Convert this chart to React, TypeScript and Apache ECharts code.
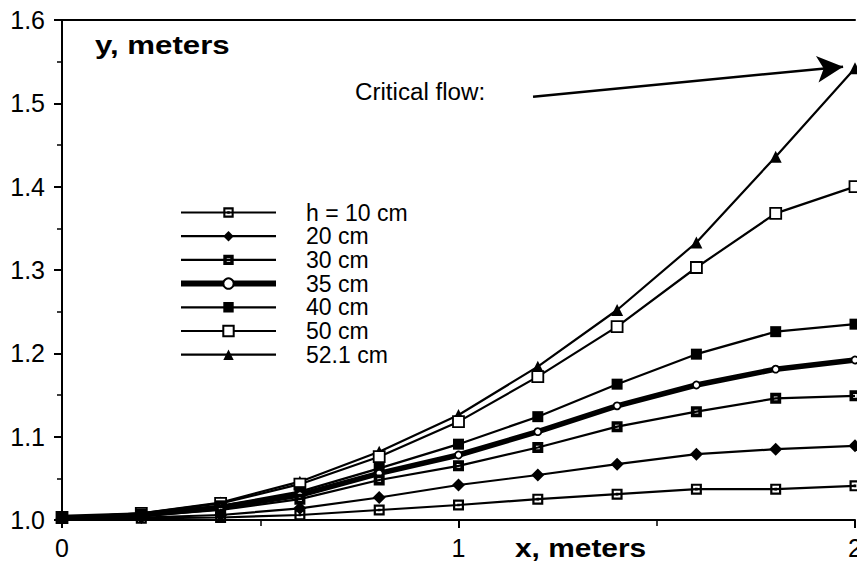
import React, { useEffect, useRef } from "react";
import * as echarts from "echarts";

// x positions (meters)
const xValues = [0, 0.2, 0.4, 0.6, 0.8, 1.0, 1.2, 1.4, 1.6, 1.8, 2.0];
const seriesNames = ["h = 10 cm", "20 cm", "30 cm", "35 cm", "40 cm", "50 cm", "52.1 cm"];
// y (meters)
const yH10 = [1.002, 1.002, 1.003, 1.006, 1.012, 1.018, 1.025, 1.031, 1.037, 1.037, 1.041];
const yH20 = [1.002, 1.003, 1.006, 1.014, 1.027, 1.042, 1.054, 1.067, 1.079, 1.085, 1.089];
const yH30 = [1.003, 1.005, 1.012, 1.025, 1.048, 1.065, 1.087, 1.112, 1.130, 1.146, 1.149];
const yH35 = [1.003, 1.006, 1.015, 1.030, 1.056, 1.078, 1.106, 1.137, 1.162, 1.181, 1.192];
const yH40 = [1.003, 1.007, 1.017, 1.034, 1.062, 1.091, 1.124, 1.163, 1.199, 1.226, 1.235];
const yH50 = [1.003, 1.008, 1.020, 1.043, 1.076, 1.118, 1.172, 1.232, 1.303, 1.368, 1.400];
const yH521 = [1.003, 1.008, 1.021, 1.046, 1.082, 1.126, 1.184, 1.252, 1.333, 1.436, 1.542];
const seriesValues = [yH10, yH20, yH30, yH35, yH40, yH50, yH521];
// critical-flow arrow (data coords)
const arrowStart = [1.188, 1.508];
const arrowEnd = [1.97, 1.544];
const xTickLabels = ["0", "1", "2"];

const FONT = "'Liberation Sans', Arial, Helvetica, sans-serif";
const SQ_DOT = "path://M0,0H10V10H0Z M2,2V8H8V2Z M3.8,3.8H6.2V6.2H3.8Z";
const SQ_THICK = "path://M0,0H10V10H0Z M3.3,3.3V6.7H6.7V3.3Z";

export default function App() {
  const ref = useRef<HTMLDivElement>(null);
  useEffect(() => {
    document.body.style.margin = "0";
    if (!ref.current) return;
    const chart = echarts.init(ref.current, null, { renderer: "svg" });
    const styles = [
      { symbol: SQ_DOT, size: 11, fill: "#000", width: 2.2 },
      { symbol: "diamond", size: 13, fill: "#000", width: 2.2 },
      { symbol: SQ_THICK, size: 11, fill: "#000", width: 2.2 },
      { symbol: "circle", size: 7, fill: "#fff", width: 5.5 },
      { symbol: "rect", size: 11, fill: "#000", width: 2.2 },
      { symbol: "rect", size: 11, fill: "#fff", width: 2.2 },
      { symbol: "triangle", size: 12, fill: "#000", width: 2.2 },
    ];
    const series: any[] = seriesNames.map((name, i) => {
      const st = styles[i];
      return {
        name,
        type: "line",
        data: xValues.map((x, j) => [x, seriesValues[i][j]]),
        symbol: st.symbol,
        symbolSize: st.size,
        showAllSymbol: true,
        clip: false,
        z: 10 - i,
        lineStyle: { color: "#000", width: st.width },
        itemStyle: {
          color: st.fill,
          borderColor: "#000",
          borderWidth: st.fill === "#fff" ? 1.8 : 0,
        },
        emphasis: { disabled: true },
      };
    });
    series.push({
      name: "arrow",
      type: "line",
      data: [],
      silent: true,
      markLine: {
        silent: true,
        symbol: ["none", "arrow"],
        symbolSize: [20, 26],
        label: { show: false },
        lineStyle: { color: "#000", width: 2.5, type: "solid" },
        emphasis: { disabled: true },
        data: [[{ coord: arrowStart }, { coord: arrowEnd }]],
      },
    });

    chart.setOption({
      animation: false,
      backgroundColor: "#fff",
      grid: {
        left: 62,
        right: 2,
        top: 20,
        bottom: 45,
        containLabel: false,
        outerBoundsMode: "none",
      },
      legend: {
        data: seriesNames.map((name, i) => ({
          name,
          lineStyle: { width: i === 3 ? 6 : 2.2, color: "#000" },
        })),
        orient: "vertical",
        left: 173,
        top: 196,
        itemWidth: 95,
        itemHeight: 13,
        itemGap: 0.7,
        selectedMode: false,
        textStyle: {
          color: "#000",
          fontFamily: FONT,
          fontSize: 23,
          lineHeight: 23,
          padding: [0, 0, 0, 25],
        },
      },
      xAxis: [
        {
          type: "value",
          min: 0,
          max: 2,
          interval: 1,
          axisLine: { show: true, lineStyle: { color: "#000", width: 2 } },
          axisTick: { show: true, length: 8, lineStyle: { color: "#000", width: 2 } },
          minorTick: { show: true, splitNumber: 2, length: 6, lineStyle: { color: "#000", width: 1.5 } },
          axisLabel: {
            color: "#000",
            fontFamily: FONT,
            fontSize: 25,
            margin: 15,
            formatter: (v: number) => xTickLabels[Math.round(v)] ?? "",
          },
          splitLine: { show: false },
        },
        {
          type: "value",
          position: "top",
          min: 0,
          max: 2,
          axisLine: { show: true, lineStyle: { color: "#000", width: 2 } },
          axisTick: { show: false },
          axisLabel: { show: false },
          splitLine: { show: false },
        },
      ],
      yAxis: {
        type: "value",
        min: 1.0,
        max: 1.6,
        interval: 0.1,
        axisLine: { show: true, lineStyle: { color: "#000", width: 2 } },
        axisTick: { show: true, length: 8, lineStyle: { color: "#000", width: 2 } },
        minorTick: { show: true, splitNumber: 2, length: 5, lineStyle: { color: "#000", width: 1.5 } },
        axisLabel: {
          color: "#000",
          fontFamily: FONT,
          fontSize: 25,
          margin: 17,
          formatter: (v: number) => v.toFixed(1),
        },
        splitLine: { show: false },
      },
      graphic: [
        {
          type: "text",
          x: 95,
          y: 32,
          scaleX: 1.2,
          style: { text: "y, meters", fill: "#000", font: `bold 26px ${FONT}` },
        },
        {
          type: "text",
          x: 515,
          y: 535,
          scaleX: 1.15,
          style: { text: "x, meters", fill: "#000", font: `bold 26px ${FONT}` },
        },
        {
          type: "text",
          x: 355,
          y: 81,
          scaleX: 1.05,
          style: { text: "Critical flow:", fill: "#000", font: `23px ${FONT}` },
        },
      ],
      series,
    });
    return () => chart.dispose();
  }, []);
  return <div ref={ref} style={{ width: 857, height: 565 }} />;
}
